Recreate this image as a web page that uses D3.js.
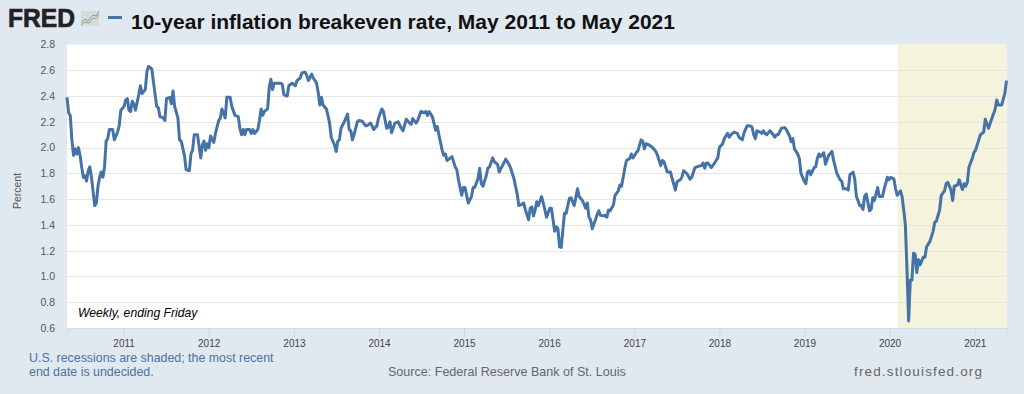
<!DOCTYPE html>
<html><head><meta charset="utf-8">
<script src="https://cdnjs.cloudflare.com/ajax/libs/d3/7.8.5/d3.min.js"></script>
<style>html,body{margin:0;padding:0;background:#e1e9f0}svg{display:block}text{font-family:"Liberation Sans",Arial,sans-serif}</style>
</head><body><svg id="c" width="1024" height="394"></svg>
<script>
const titleText = "10-year inflation breakeven rate, May 2011 to May 2021";
const firstWeek = "2010-05-03";
const lastDay = "2021-05-17";
const recession = ["2020-02-05", "2021-05-17"];
const yTicks = [0.6,0.8,1.0,1.2,1.4,1.6,1.8,2.0,2.2,2.4,2.6,2.8];
const xTickYears = [2011,2012,2013,2014,2015,2016,2017,2018,2019,2020,2021];
// [weeks since firstWeek, percent]
const breakeven = [
[0,2.39],[1,2.27],[2,2.25],[3,2.06],[4,1.94],[5,1.99],[6,1.95],[7,2.0],[8,1.94],[9,1.85],[10,1.77],[11,1.78],[12,1.74],[13,1.82],[14,1.85],[15,1.77],[16,1.66],[17,1.55],[18,1.57],[19,1.70],[20,1.77],[21,1.81],[22,1.77],[23,1.85],[24,2.05],[25,2.07],[26,2.14],[28,2.14],[29,2.06],[31,2.12],[32,2.17],[33,2.29],[35,2.32],[36,2.37],[37,2.38],[38,2.29],[39,2.28],[40,2.36],[41,2.34],[42,2.29],[44,2.41],[45,2.48],[46,2.42],[48,2.45],[49,2.59],[50,2.63],[52,2.61],[53,2.51],[55,2.32],[56,2.31],[57,2.24],[59,2.23],[60,2.21],[61,2.38],[63,2.39],[64,2.34],[65,2.44],[66,2.32],[68,2.23],[69,2.06],[70,2.05],[72,1.94],[73,1.83],[75,1.82],[76,1.95],[77,1.98],[78,2.10],[80,2.10],[82,1.92],[83,2.02],[84,2.05],[85,1.98],[86,2.03],[87,2.0],[88,2.09],[90,2.04],[91,2.11],[93,2.21],[94,2.23],[95,2.30],[97,2.23],[98,2.39],[100,2.39],[101,2.32],[103,2.25],[105,2.24],[106,2.15],[107,2.10],[108,2.14],[109,2.10],[110,2.14],[112,2.14],[113,2.11],[114,2.14],[115,2.11],[117,2.14],[118,2.21],[119,2.30],[120,2.25],[121,2.28],[123,2.30],[124,2.47],[125,2.53],[126,2.45],[127,2.50],[129,2.50],[131,2.50],[132,2.49],[133,2.41],[135,2.40],[136,2.48],[138,2.50],[140,2.48],[141,2.52],[143,2.54],[144,2.58],[146,2.585],[147,2.56],[148,2.52],[150,2.57],[151,2.54],[153,2.50],[154,2.43],[155,2.33],[156,2.39],[157,2.33],[159,2.30],[160,2.25],[161,2.19],[162,2.08],[164,2.02],[165,1.97],[166,2.05],[167,2.06],[168,2.15],[170,2.20],[172,2.26],[173,2.14],[174,2.13],[175,2.06],[176,2.10],[178,2.20],[179,2.21],[181,2.205],[183,2.17],[184,2.17],[186,2.19],[187,2.17],[188,2.14],[190,2.17],[191,2.23],[193,2.30],[194,2.28],[196,2.15],[197,2.16],[198,2.20],[199,2.115],[201,2.19],[203,2.20],[205,2.15],[206,2.13],[208,2.22],[210,2.19],[211,2.18],[212,2.225],[214,2.19],[215,2.21],[217,2.28],[219,2.27],[220,2.28],[221,2.25],[222,2.28],[224,2.24],[226,2.135],[227,2.165],[228,2.10],[230,1.98],[231,1.94],[232,1.95],[233,1.90],[236,1.93],[238,1.85],[239,1.83],[240,1.75],[242,1.63],[243,1.69],[244,1.69],[246,1.57],[248,1.62],[249,1.69],[250,1.69],[252,1.76],[253,1.84],[254,1.72],[255,1.70],[257,1.78],[258,1.84],[259,1.85],[261,1.92],[262,1.89],[264,1.87],[265,1.81],[267,1.86],[269,1.91],[271,1.87],[272,1.84],[274,1.76],[276,1.64],[277,1.55],[279,1.56],[280,1.57],[281,1.52],[283,1.44],[284,1.53],[285,1.54],[286,1.47],[287,1.515],[288,1.58],[289,1.55],[291,1.62],[292,1.57],[294,1.46],[296,1.53],[297,1.53],[299,1.35],[300,1.385],[301,1.37],[302,1.23],[303,1.225],[304,1.36],[305,1.49],[306,1.49],[308,1.605],[309,1.61],[311,1.55],[313,1.68],[314,1.62],[316,1.59],[317,1.56],[318,1.53],[319,1.57],[320,1.46],[321,1.44],[322,1.37],[324,1.44],[325,1.48],[326,1.51],[327,1.475],[329,1.47],[330,1.475],[331,1.46],[332,1.515],[333,1.51],[335,1.555],[336,1.63],[338,1.665],[339,1.71],[340,1.70],[342,1.84],[343,1.90],[345,1.915],[346,1.95],[347,1.92],[349,1.96],[350,1.975],[352,2.06],[353,2.05],[354,1.99],[355,2.03],[357,2.02],[359,2.0],[361,1.97],[362,1.94],[364,1.86],[365,1.90],[366,1.89],[367,1.85],[368,1.81],[370,1.81],[371,1.76],[373,1.67],[374,1.735],[376,1.75],[377,1.77],[378,1.82],[379,1.81],[380,1.80],[382,1.755],[383,1.77],[385,1.845],[387,1.855],[389,1.86],[390,1.88],[391,1.84],[392,1.88],[393,1.88],[395,1.845],[397,1.88],[399,1.92],[400,2.0],[402,2.03],[403,2.07],[405,2.11],[406,2.08],[407,2.10],[409,2.12],[411,2.11],[412,2.08],[414,2.06],[415,2.11],[417,2.17],[418,2.17],[420,2.16],[421,2.10],[422,2.07],[423,2.13],[425,2.12],[426,2.11],[427,2.13],[428,2.11],[429,2.10],[431,2.13],[433,2.10],[434,2.08],[435,2.10],[436,2.10],[438,2.15],[440,2.155],[441,2.14],[443,2.09],[444,2.045],[445,2.07],[446,1.99],[448,1.95],[449,1.915],[450,1.80],[452,1.74],[453,1.72],[454,1.81],[455,1.82],[456,1.79],[458,1.845],[459,1.85],[460,1.915],[461,1.95],[462,1.93],[464,1.96],[465,1.87],[467,1.94],[469,1.97],[470,1.90],[472,1.80],[474,1.75],[475,1.74],[476,1.68],[478,1.68],[479,1.67],[480,1.79],[482,1.81],[483,1.75],[484,1.62],[486,1.55],[487,1.55],[488,1.52],[489,1.62],[490,1.64],[492,1.51],[493,1.52],[494,1.61],[495,1.59],[497,1.69],[498,1.62],[500,1.62],[501,1.68],[503,1.77],[504,1.75],[505,1.77],[507,1.755],[508,1.68],[509,1.63],[511,1.665],[512,1.62],[513,1.515],[514,1.40],[515,1.05],[516,0.655],[517,0.97],[518,0.97],[519,1.18],[520,1.17],[521,1.03],[522,1.13],[523,1.09],[525,1.15],[526,1.15],[527,1.23],[529,1.27],[531,1.35],[532,1.42],[533,1.43],[535,1.515],[536,1.63],[538,1.665],[539,1.72],[540,1.73],[542,1.67],[543,1.59],[544,1.70],[546,1.71],[547,1.75],[548,1.71],[549,1.675],[550,1.72],[551,1.70],[552,1.73],[553,1.85],[555,1.915],[556,1.96],[557,1.98],[559,2.06],[560,2.10],[562,2.12],[563,2.22],[565,2.15],[567,2.225],[569,2.295],[570,2.37],[571,2.33],[573,2.33],[575,2.42],[576,2.52]
];

const svg = d3.select("#c");
const L = 67, R = 1006.5, T = 44.5, B = 328;
const start = new Date(firstWeek + "T00:00:00Z");
const x = d3.scaleUtc().domain([start, new Date(lastDay + "T00:00:00Z")]).range([L, R]);
const y = d3.scaleLinear().domain([0.6, 2.8]).range([B, T]);
const date = w => d3.utcDay.offset(start, w * 7);
const BLUE = "#4572a7";

svg.append("rect").attr("x", L).attr("y", T).attr("width", R - L).attr("height", B - T).attr("fill", "#fff");
const r0 = x(new Date(recession[0] + "T00:00:00Z")), r1 = x(new Date(recession[1] + "T00:00:00Z"));
svg.append("rect").attr("x", r0).attr("y", T).attr("width", r1 - r0).attr("height", B - T).attr("fill", "#f4f3dc");

// grid + y axis
const yAxis = d3.axisLeft(y).tickValues(yTicks).tickFormat(d3.format(".1f")).tickSize(0).tickPadding(12);
const gy = svg.append("g").attr("transform", `translate(${L},0)`).call(yAxis);
gy.select(".domain").remove();
gy.selectAll("text").attr("font-size", 10.5).attr("fill", "#555").style("font-family", '"Liberation Sans"');
svg.append("g").selectAll("line").data(yTicks.filter(t => t > 0.6 && t < 2.8)).join("line")
  .attr("x1", L).attr("x2", R).attr("y1", d => Math.round(y(d)) + 0.5).attr("y2", d => Math.round(y(d)) + 0.5)
  .attr("stroke", "#e6e6e6").attr("stroke-width", 1);

// x axis
const xAxis = d3.axisBottom(x).tickValues(xTickYears.map(v => new Date(Date.UTC(v, 0, 1))))
  .tickFormat(d3.utcFormat("%Y")).tickSize(9).tickPadding(3);
const gx = svg.append("g").attr("transform", `translate(0,${B})`).call(xAxis);
gx.select(".domain").attr("stroke", "#d3dde8");
gx.selectAll("line").attr("stroke", "#cdd8e4");
gx.selectAll("text").attr("font-size", 10).attr("fill", "#444").style("font-family", '"Liberation Sans"');

// series
const line = d3.line().x(d => x(date(d[0]))).y(d => y(d[1])).curve(d3.curveLinear);
svg.append("path").datum(breakeven).attr("d", line).attr("fill", "none")
  .attr("stroke", BLUE).attr("stroke-width", 3).attr("stroke-linejoin", "round");

// labels
svg.append("text").attr("transform", "translate(21,191) rotate(-90)").attr("text-anchor", "middle")
  .attr("font-size", 10.5).attr("fill", "#555").text("Percent");
svg.append("text").attr("x", 78).attr("y", 317).attr("font-size", 12.2).attr("font-style", "italic").attr("fill", "#000").text("Weekly, ending Friday");
svg.append("text").attr("x", 29).attr("y", 362).attr("font-size", 12.4).attr("fill", "#4a72a5").text("U.S. recessions are shaded; the most recent");
svg.append("text").attr("x", 29).attr("y", 376).attr("font-size", 12.4).attr("fill", "#4a72a5").text("end date is undecided.");
svg.append("text").attr("x", 388).attr("y", 376).attr("font-size", 12.55).attr("fill", "#666").text("Source: Federal Reserve Bank of St. Louis");
svg.append("text").attr("x", 854).attr("y", 376).attr("font-size", 13.5).attr("fill", "#666").attr("textLength", 128).attr("lengthAdjust", "spacing").text("fred.stlouisfed.org");

// header
svg.append("text").attr("x", 8).attr("y", 27).attr("font-size", 26).attr("font-weight", 700)
  .attr("fill", "#222").attr("stroke", "#222").attr("stroke-width", 0.7).attr("textLength", 67).attr("lengthAdjust", "spacingAndGlyphs").text("FRED");
svg.append("rect").attr("x", 81).attr("y", 11).attr("width", 18).attr("height", 15).attr("fill", "#d8dcd8");
const iconLine = d3.line();
svg.append("path").attr("d", iconLine([[81,23],[85,19],[88,21],[93,15],[96,16],[99,11]])).attr("fill","none").attr("stroke","#7b9cbb").attr("stroke-width",1);
svg.append("path").attr("d", iconLine([[81,25],[85,22],[89,23],[93,18],[96,19],[99,14]])).attr("fill","none").attr("stroke","#8cab75").attr("stroke-width",1);
svg.append("rect").attr("x", 108).attr("y", 16).attr("width", 14).attr("height", 3).attr("fill", BLUE);
svg.append("text").attr("x", 131).attr("y", 29).attr("font-size", 21).attr("font-weight", 700).attr("fill", "#111").text(titleText);
</script></body></html>
